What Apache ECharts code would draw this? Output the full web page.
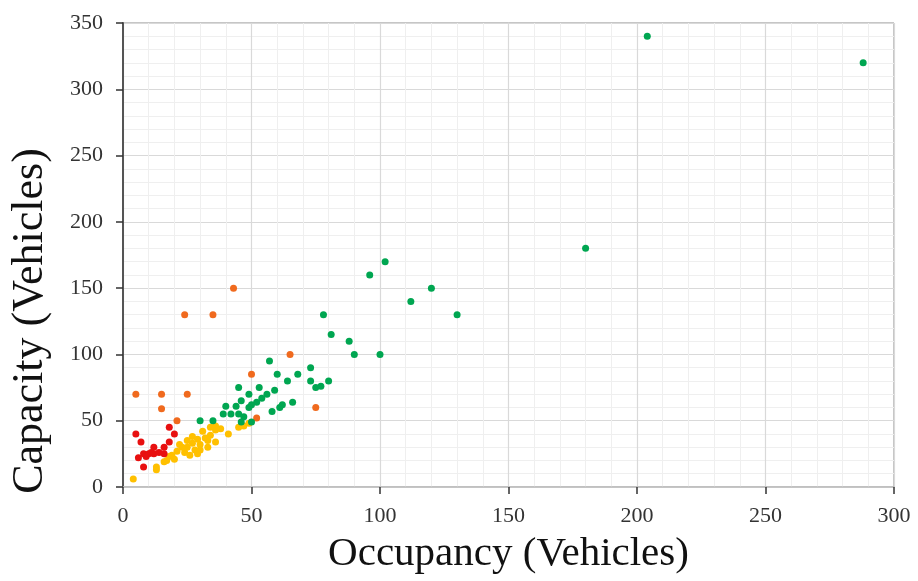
<!DOCTYPE html>
<html><head><meta charset="utf-8">
<script src="https://cdn.jsdelivr.net/npm/echarts@6/dist/echarts.min.js"></script>
<style>html,body{margin:0;padding:0;background:#fff}#c{width:918px;height:581px}</style>
</head><body><div id="c"></div>
<script>
const xTicks = [0, 50, 100, 150, 200, 250, 300];
const yTicks = [0, 50, 100, 150, 200, 250, 300, 350];
const xTitle = 'Occupancy (Vehicles)';
const yTitle = 'Capacity (Vehicles)';
const redPts = [[5,40],[7,34],[6,22],[8,25],[10,25],[12,30],[12,25],[14,26],[16,25],[16,30],[8,15],[18,34],[18,45],[20,40],[9,23],[11,26]];
const orangePts = [[43,150],[24,130],[35,130],[65,100],[50,85],[5,70],[15,70],[25,70],[15,59],[75,60],[21,50],[52,52]];
const yellowPts = [[4,6],[13,13],[13,15],[16,19],[18,23],[19,24],[21,27],[23,30],[25,35],[27,33],[28,28],[30,32],[32,37],[34,39],[36,43],[36,34],[36,46],[34,45],[41,40],[45,45],[49,48],[47,46],[24,26],[29,25],[20,21],[26,24],[22,32],[27,38],[31,42],[33,35],[38,44],[30,28],[17,20],[25,30],[33,30],[29,36]];
const greenPts = [[78,130],[81,115],[57,95],[73,90],[60,85],[68,85],[64,80],[73,80],[80,80],[75,75],[77,76],[45,75],[53,75],[59,73],[49,70],[56,70],[46,65],[54,67],[52,64],[50,62],[49,60],[40,61],[44,61],[39,55],[42,55],[45,55],[47,53],[58,57],[61,60],[62,62],[66,64],[30,50],[35,50],[46,49],[50,49],[102,170],[96,160],[120,150],[112,140],[130,130],[88,110],[90,100],[100,100],[180,180],[204,340],[288,320]];

const chart = echarts.init(document.getElementById('c'), null, {renderer: 'canvas'});
const font = 'Liberation Serif';
const mk = (name, data, color) => ({name, type: 'scatter', data, symbolSize: 7, itemStyle: {color, opacity: 1}});
chart.setOption({
  animation: false,
  grid: {left: 123, right: 24, top: 23, bottom: 94, show: true, borderColor: '#8c8c8c', borderWidth: 1},
  graphic: [{
    type: 'text', x: 30, y: 321, rotation: Math.PI / 2,
    style: {text: yTitle, font: '44px "Liberation Serif"', fill: '#111', align: 'center', verticalAlign: 'middle'}
  }],
  xAxis: {
    type: 'value', min: xTicks[0], max: xTicks[xTicks.length-1], interval: 50,
    name: xTitle, nameLocation: 'middle', nameGap: 47,
    nameTextStyle: {fontFamily: font, fontSize: 41, color: '#111'},
    axisLine: {show: true, lineStyle: {color: '#bfbfbf', width: 1.5}},
    axisTick: {show: true, length: 7, lineStyle: {color: '#333', width: 1.5}},
    axisLabel: {fontFamily: font, fontSize: 22, color: '#333', margin: 18},
    splitLine: {show: true, lineStyle: {color: '#d9d9d9', width: 1.2}},
    minorTick: {show: false, splitNumber: 5},
    minorSplitLine: {show: true, lineStyle: {color: '#efefef', width: 1}}
  },
  yAxis: {
    type: 'value', min: yTicks[0], max: yTicks[yTicks.length-1], interval: 50,
    axisLine: {show: true, lineStyle: {color: '#555', width: 2}},
    axisTick: {show: true, length: 7, lineStyle: {color: '#333', width: 1.5}},
    axisLabel: {fontFamily: font, fontSize: 22, color: '#333', margin: 20},
    splitLine: {show: true, lineStyle: {color: '#d9d9d9', width: 1.2}},
    minorTick: {show: false, splitNumber: 5},
    minorSplitLine: {show: true, lineStyle: {color: '#efefef', width: 1}}
  },
  series: [
    mk('yellow', yellowPts, '#FFC000'),
    mk('red', redPts, '#E81010'),
    mk('orange', orangePts, '#F06A1E'),
    mk('green', greenPts, '#00A651')
  ]
});
</script></body></html>
